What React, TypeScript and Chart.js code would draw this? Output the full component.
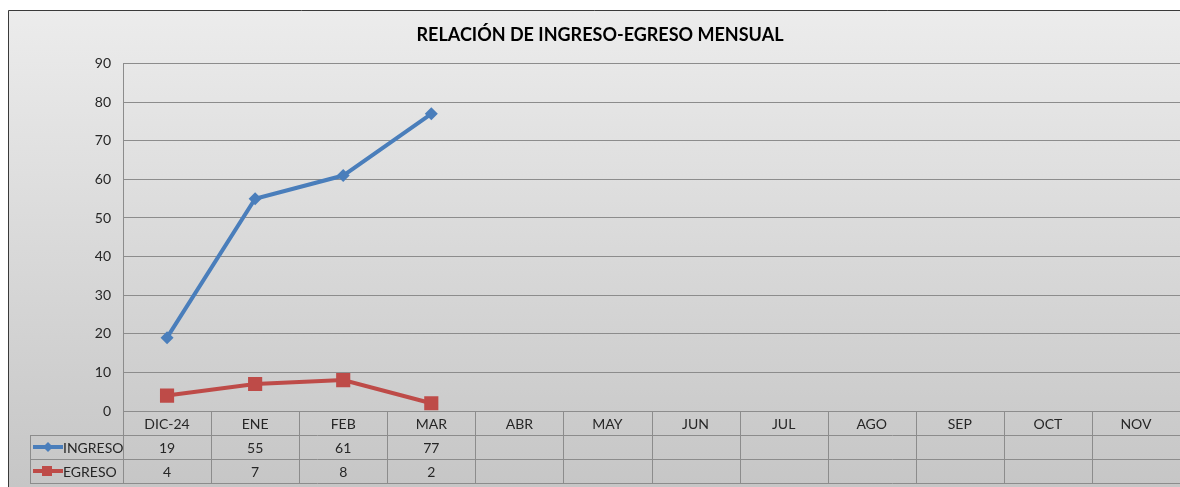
import React, { useEffect, useRef } from "react";
import { Chart, registerables } from "chart.js";

Chart.register(...registerables);

const TITLE = "RELACIÓN DE INGRESO-EGRESO MENSUAL";
const CATEGORIES = ["DIC-24", "ENE", "FEB", "MAR", "ABR", "MAY", "JUN", "JUL", "AGO", "SEP", "OCT", "NOV"];
const INGRESO = [19, 55, 61, 77, null, null, null, null, null, null, null, null];
const EGRESO = [4, 7, 8, 2, null, null, null, null, null, null, null, null];
const SERIES_NAMES = ["INGRESO", "EGRESO"];
const Y_MIN = 0;
const Y_MAX = 90;
const Y_STEP = 10;

const BLUE = "#4a7ebb";
const RED = "#be4b48";
const FONT = "Lato, 'Open Sans', 'DejaVu Sans', sans-serif";
const TEXT = "#262626";
const GRID = "#8c8c8c";

const bgPlugin = {
  id: "bgFrame",
  beforeDraw(chart: any) {
    const { ctx, width, height } = chart;
    ctx.save();
    const g = ctx.createLinearGradient(0, 2, 0, height);
    g.addColorStop(0, "#ececec");
    g.addColorStop(1, "#c6c6c6");
    ctx.fillStyle = g;
    ctx.fillRect(0, 2, width, height - 2);
    ctx.strokeStyle = "#3a3a3a";
    ctx.lineWidth = 1;
    ctx.beginPath();
    ctx.moveTo(0.5, height);
    ctx.lineTo(0.5, 2.5);
    ctx.lineTo(width, 2.5);
    ctx.stroke();
    ctx.restore();
  },
};

const tablePlugin = {
  id: "dataTable",
  afterDraw(chart: any) {
    const { ctx } = chart;
    const x = chart.scales.x;
    const area = chart.chartArea;
    const n = CATEGORIES.length;
    const step = (x.right - x.left) / n;
    const rowH = 24;
    const top = area.bottom;
    const legendLeft = 22;
    ctx.save();
    ctx.strokeStyle = GRID;
    ctx.lineWidth = 1;
    ctx.beginPath();
    ctx.moveTo(x.left, Math.round(top) + 0.5);
    ctx.lineTo(x.right, Math.round(top) + 0.5);
    for (let r = 1; r <= 3; r++) {
      const yy = Math.round(top + r * rowH) + 0.5;
      ctx.moveTo(legendLeft, yy);
      ctx.lineTo(x.right, yy);
    }
    for (let i = 0; i <= n; i++) {
      const xx = Math.round(x.left + i * step) + 0.5;
      ctx.moveTo(xx, top);
      ctx.lineTo(xx, top + 3 * rowH);
    }
    ctx.moveTo(legendLeft + 0.5, top + rowH);
    ctx.lineTo(legendLeft + 0.5, top + 3 * rowH);
    ctx.stroke();

    ctx.fillStyle = TEXT;
    ctx.font = `14px ${FONT}`;
    ctx.textAlign = "center";
    ctx.textBaseline = "middle";
    CATEGORIES.forEach((c, i) => {
      const cx = x.getPixelForValue(i);
      ctx.fillText(c, cx, top + rowH / 2 + 1);
      const a = INGRESO[i];
      const b = EGRESO[i];
      if (a !== null) ctx.fillText(String(a), cx, top + rowH * 1.5 + 1);
      if (b !== null) ctx.fillText(String(b), cx, top + rowH * 2.5 + 1);
    });

    const colors = [BLUE, RED];
    SERIES_NAMES.forEach((name, r) => {
      const cy = top + rowH * (1.5 + r);
      ctx.strokeStyle = colors[r];
      ctx.lineWidth = 4;
      ctx.beginPath();
      ctx.moveTo(legendLeft + 3, cy);
      ctx.lineTo(legendLeft + 33, cy);
      ctx.stroke();
      ctx.fillStyle = colors[r];
      ctx.beginPath();
      if (r === 0) {
        ctx.moveTo(legendLeft + 18, cy - 5);
        ctx.lineTo(legendLeft + 23, cy);
        ctx.lineTo(legendLeft + 18, cy + 5);
        ctx.lineTo(legendLeft + 13, cy);
        ctx.closePath();
      } else {
        ctx.rect(legendLeft + 12, cy - 5, 10, 10);
      }
      ctx.fill();
      ctx.fillStyle = TEXT;
      ctx.textAlign = "left";
      ctx.fillText(name, legendLeft + 33, cy + 1);
    });
    ctx.restore();
  },
};

export default function App() {
  const ref = useRef<HTMLCanvasElement | null>(null);
  useEffect(() => {
    if (!ref.current) return;
    const chart = new Chart(ref.current, {
      type: "line",
      data: {
        labels: CATEGORIES,
        datasets: [
          {
            label: SERIES_NAMES[0],
            data: INGRESO,
            borderColor: BLUE,
            backgroundColor: BLUE,
            borderWidth: 4,
            pointStyle: "rectRot",
            pointRadius: 6.5,
            pointBorderWidth: 0,
            tension: 0,
            spanGaps: false,
          },
          {
            label: SERIES_NAMES[1],
            data: EGRESO,
            borderColor: RED,
            backgroundColor: RED,
            borderWidth: 4,
            pointStyle: "rect",
            pointRadius: 10,
            pointBorderWidth: 0,
            tension: 0,
            spanGaps: false,
          },
        ],
      },
      plugins: [bgPlugin, tablePlugin],
      options: {
        responsive: false,
        animation: false,
        layout: { autoPadding: false, padding: { top: 4, right: 0, left: 12, bottom: 0 } },
        plugins: {
          legend: { display: false },
          tooltip: { enabled: false },
          title: {
            display: true,
            text: TITLE,
            color: "#000000",
            font: { family: FONT, size: 18, weight: "bold" },
            padding: { top: 12, bottom: 18 },
          },
        },
        scales: {
          x: {
            type: "category",
            offset: true,
            grid: { display: false, offset: true },
            border: { display: false },
            ticks: { display: false },
            afterFit(s: any) {
              s.height = 76;
            },
          },
          y: {
            min: Y_MIN,
            max: Y_MAX,
            ticks: {
              stepSize: Y_STEP,
              color: TEXT,
              font: { family: FONT, size: 14 },
              padding: 12,
            },
            grid: { color: GRID, lineWidth: 1, drawTicks: false },
            border: { display: true, color: GRID, width: 1 },
            afterFit(s: any) {
              s.width = 103;
            },
          },
        },
      },
    });
    return () => chart.destroy();
  }, []);
  return (
    <div style={{ position: "fixed", left: 8, top: 8, width: 1172, height: 479, overflow: "hidden" }}>
      <canvas ref={ref} width={1172} height={479} style={{ display: "block" }} />
    </div>
  );
}
